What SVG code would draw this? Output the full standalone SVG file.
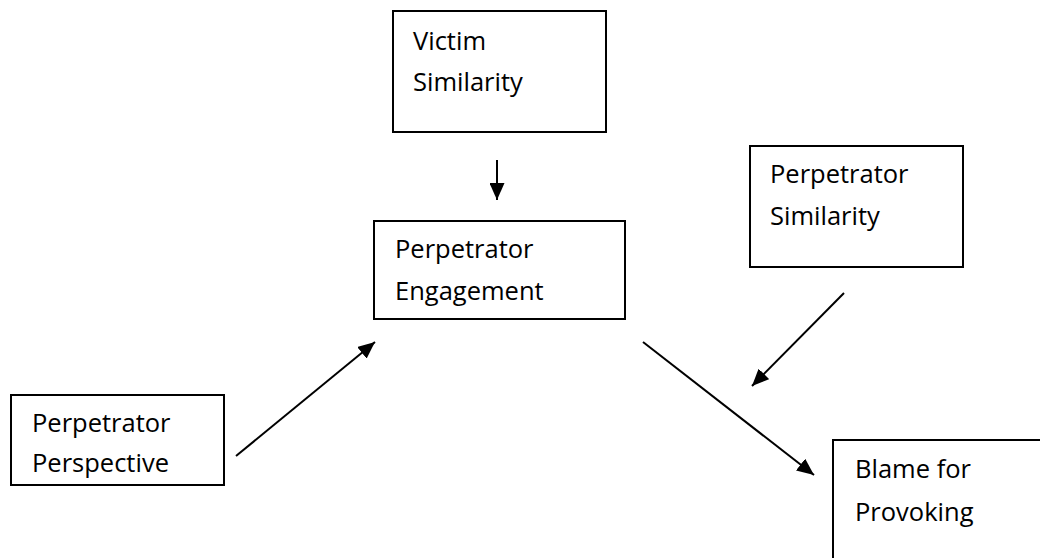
<svg xmlns="http://www.w3.org/2000/svg" width="1040" height="558" viewBox="0 0 1040 558">
  <style>
    .box { fill: #ffffff; stroke: #000000; stroke-width: 2; }
    .label { font-family: "Open Sans", "Liberation Sans", sans-serif; font-size: 25.5px; fill: #000000; }
    .edge { stroke: #000000; stroke-width: 2; fill: none; marker-end: url(#head); }
  </style>
  <defs>
    <marker id="head" viewBox="0 0 17 15" refX="17" refY="7.5" markerWidth="17" markerHeight="15" markerUnits="userSpaceOnUse" orient="auto">
      <path d="M0,0 L17,7.5 L0,15 Z" fill="#000000"/>
    </marker>
  </defs>
  <rect width="1040" height="558" fill="#ffffff"/>

  <g id="victim-similarity">
    <rect class="box" x="393" y="11" width="213" height="121"/>
    <text class="label" x="413" y="50">Victim</text>
    <text class="label" x="413" y="91">Similarity</text>
  </g>

  <g id="perpetrator-engagement">
    <rect class="box" x="374" y="221" width="251" height="98"/>
    <text class="label" x="395" y="258">Perpetrator</text>
    <text class="label" x="395" y="300">Engagement</text>
  </g>

  <g id="perpetrator-similarity">
    <rect class="box" x="750" y="146" width="213" height="121"/>
    <text class="label" x="770" y="183">Perpetrator</text>
    <text class="label" x="770" y="225">Similarity</text>
  </g>

  <g id="perpetrator-perspective">
    <rect class="box" x="11" y="395" width="213" height="90"/>
    <text class="label" x="32" y="432">Perpetrator</text>
    <text class="label" x="32" y="472">Perspective</text>
  </g>

  <g id="blame-for-provoking">
    <rect class="box" x="833" y="440" width="220" height="130"/>
    <text class="label" x="855" y="478">Blame for</text>
    <text class="label" x="855" y="521">Provoking</text>
  </g>

  <g id="connectors">
    <line class="edge" x1="497" y1="160" x2="497" y2="200"/>
    <line class="edge" x1="236" y1="456" x2="375" y2="342"/>
    <line class="edge" x1="844" y1="293" x2="752" y2="386"/>
    <line class="edge" x1="643" y1="342" x2="814" y2="475"/>
  </g>
</svg>
